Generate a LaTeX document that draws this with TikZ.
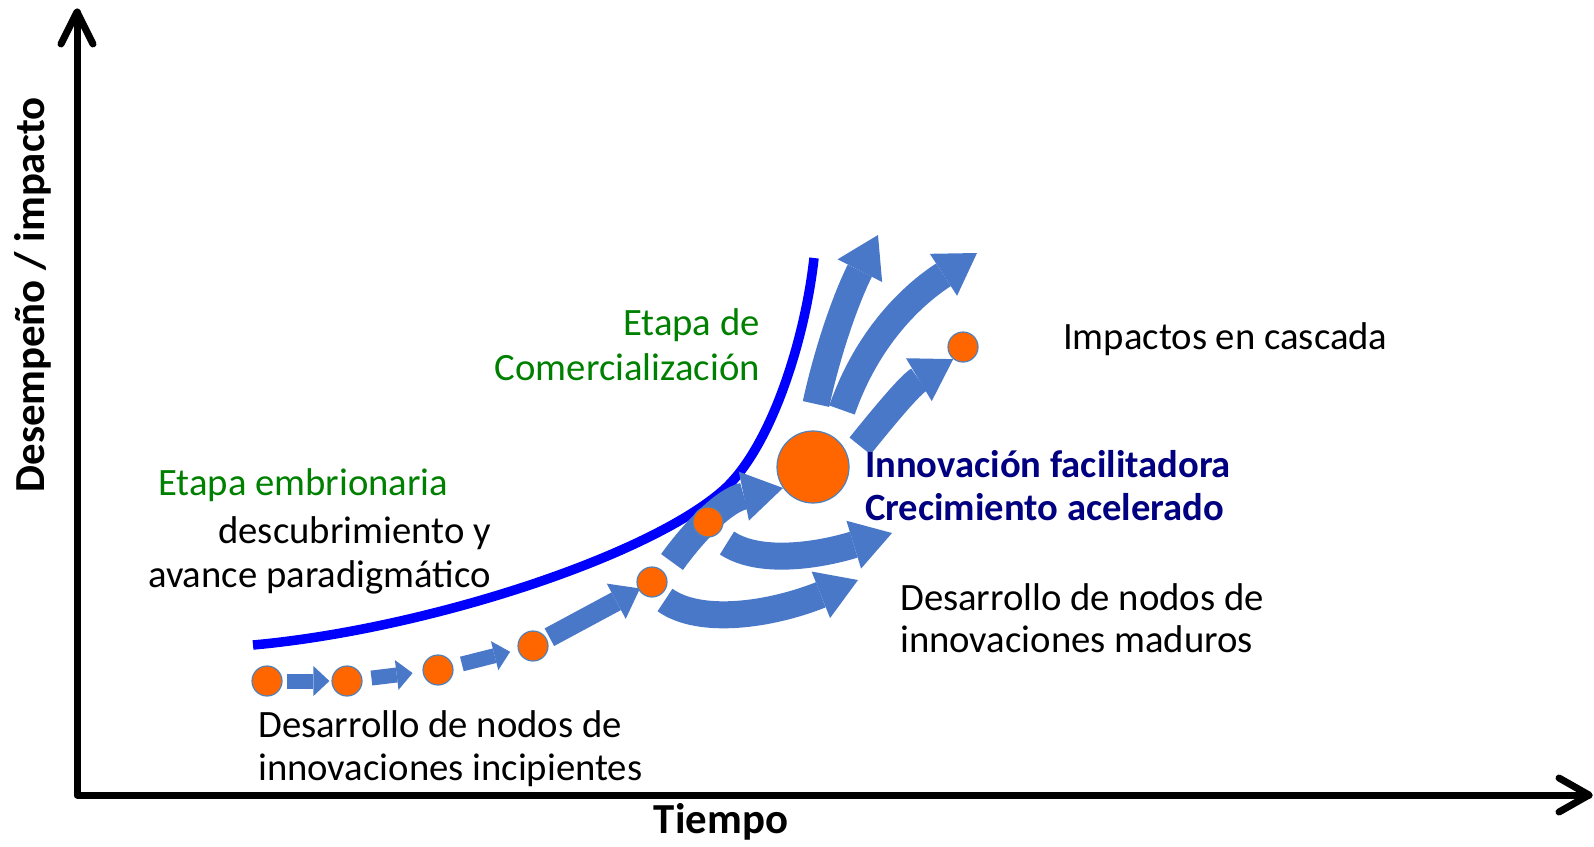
\documentclass[tikz,border=0pt]{standalone}
\usepackage{fontspec}
\setmainfont{Carlito}
\usetikzlibrary{arrows.meta,backgrounds}
\definecolor{arrowblue}{RGB}{74,120,200}
\definecolor{dotorange}{RGB}{255,102,0}
\definecolor{dotedge}{RGB}{79,129,189}
\definecolor{stagegreen}{RGB}{0,128,0}
\definecolor{navytext}{RGB}{0,0,128}
\definecolor{curveblue}{RGB}{0,0,255}
\begin{document}
\begin{tikzpicture}[x=1pt,y=-1pt,
 axisline/.style={line width=7pt, line cap=round, line join=round},
 stagecurve/.style={draw=curveblue, line width=9.5pt},
 smallarrow/.style={draw=arrowblue, line width=15pt, -{Triangle[length=16pt,width=30pt,line width=0pt]}},
 midarrow/.style={draw=arrowblue, line width=20pt, -{Triangle[length=27pt,width=40pt,line width=0pt]}},
 bigarrow/.style={draw=arrowblue, line width=27pt, -{Triangle[length=40pt,width=50pt,line width=0pt]}},
 dot/.style={circle, fill=dotorange, draw=dotedge, line width=1.2pt, minimum size=30pt, inner sep=0pt},
 bigdot/.style={dot, minimum size=72pt},
 txt/.style={inner sep=0pt, font=\fontsize{38.7}{46}\selectfont},
 stagetxt/.style={txt, text=stagegreen},
 keytxt/.style={inner sep=0pt, text=navytext, font=\fontsize{38.6}{46}\selectfont\bfseries},
 axistxt/.style={inner sep=0pt, font=\fontsize{42.8}{50}\selectfont\bfseries},
]
\useasboundingbox (0,0) rectangle (1594,846);

% axes
\coordinate (origin) at (77,795);
\coordinate (ytop) at (77,12);
\coordinate (xend) at (1589,795);
\draw[axisline] (ytop) -- (origin) -- (xend);
\draw[axisline] (ytop) ++(-16,32) -- (ytop) -- ++(16,32);
\draw[axisline] (xend) ++(-30,-17) -- (xend) -- ++(-30,17);

% nodes (dots)
\node[dot] (c1) at (267,681) {};
\node[dot] (c2) at (347,681) {};
\node[dot] (c3) at (438,670) {};
\node[dot] (c4) at (533,646) {};
\node[dot] (c5) at (652,582) {};
\node[dot] (c6) at (708,522) {};
\node[bigdot] (big) at (813,467) {};
\node[dot] (c8) at (963,347) {};

% free ends
\coordinate (curveA) at (253,645);
\coordinate (curveB) at (720,493);
\coordinate (curveC) at (814,258);
\coordinate (a5s) at (672,562);
\coordinate (a6s) at (727,543);
\coordinate (a6e) at (892,533);
\coordinate (a7s) at (665,600);
\coordinate (a7e) at (858,580);
\coordinate (a8s) at (816,404);
\coordinate (a8e) at (878,235);
\coordinate (a9s) at (842,410);
\coordinate (a9e) at (977,253);
\coordinate (a10s) at (860,446);

\begin{pgfonlayer}{background}
% stage curve
\draw[stagecurve] (curveA) .. controls (420,630) and (640,560) .. (curveB)
                  .. controls (770,452) and (805,340) .. (curveC);
% arrows
\draw[smallarrow, shorten <=4pt, shorten >=2pt] (c1) -- (c2);
\draw[smallarrow, shorten <=9pt, shorten >=10pt] (c2) -- (c3);
\draw[smallarrow, shorten <=9pt, shorten >=8pt] (c3) -- (c4);
\draw[midarrow, shorten <=3pt, shorten >=-2pt] (c4) -- (c5);
\draw[bigarrow] (a5s) .. controls (695,530) and (725,500) .. (big.215);
\draw[bigarrow] (a6s) .. controls (760,565) and (820,555) .. (a6e);
\draw[bigarrow] (a7s) .. controls (700,625) and (770,615) .. (a7e);
\draw[bigarrow] (a8s) .. controls (830,340) and (850,290) .. (a8e);
\draw[bigarrow] (a9s) .. controls (870,330) and (920,290) .. (a9e);
\draw[bigarrow] (a10s) .. controls (885,415) and (910,385) .. (c8.231);
\end{pgfonlayer}

% labels
\node[stagetxt, anchor=base east] (lcom1) at (760,335) {Etapa de};
\node[stagetxt, anchor=base east] (lcom2) at (760,380) {Comercialización};
\node[stagetxt, anchor=base west] (lemb) at (158,495) {Etapa embrionaria};
\node[txt, anchor=base east] (ldes1) at (491,543) {descubrimiento y};
\node[txt, anchor=base east] (ldes2) at (491,587) {avance paradigmático};
\node[txt, anchor=base west] (linc1) at (258,737) {Desarrollo de nodos de};
\node[txt, anchor=base west] (linc2) at (258,780) {innovaciones incipientes};
\node[txt, anchor=base west] (lmad1) at (900,610) {Desarrollo de nodos de};
\node[txt, anchor=base west] (lmad2) at (900,652) {innovaciones maduros};
\node[keytxt, anchor=base west] (lkey1) at (865,477) {Innovación facilitadora};
\node[keytxt, anchor=base west] (lkey2) at (865,520) {Crecimiento acelerado};
\node[txt, anchor=base west] (limp) at (1063,349) {Impactos en cascada};
\node[axistxt, anchor=base] (lx) at (721,833) {Tiempo};
\node[axistxt, anchor=base, rotate=90] (ly) at (44,295) {Desempeño / impacto};
\end{tikzpicture}
\end{document}
